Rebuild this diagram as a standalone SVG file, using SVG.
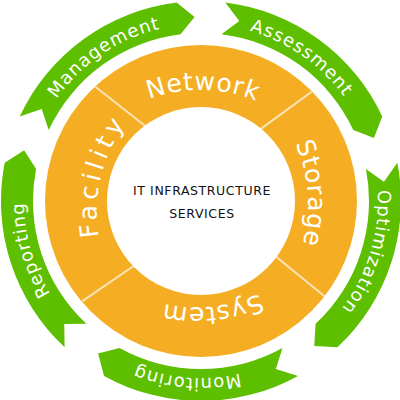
<svg xmlns="http://www.w3.org/2000/svg" width="400" height="400" viewBox="0 0 400 400">
<style>
.g{fill:#5ebf00}
.gl{fill:#ffffff;font-family:"DejaVu Sans",sans-serif;font-size:18px;letter-spacing:1px}
.ol{fill:#ffffff;font-family:"DejaVu Sans",sans-serif;font-size:25px;letter-spacing:0.8px}
.sep{stroke:#fbe4b8;stroke-width:2}
.ct{fill:#111111;font-family:"DejaVu Sans",sans-serif;font-size:12.5px;letter-spacing:0.6px}
</style>
<defs>
<path id="arrow" d="M104.04,26.08 A200,200 0 0 1 297.96,26.08 L303.89,48.46 L282.45,54.07 A168,168 0 0 0 119.55,54.07 L126.17,32.92 Z"/>
<path id="garc" d="M24,201 A177,177 0 0 1 378,201"/>
<path id="arcN" d="M51,240 A150,150 0 0 1 351,240"/>
<path id="arcS" d="M51,244 A150,150 0 0 1 351,244"/>
<path id="arcY" d="M51,245 A150,150 0 0 1 351,245"/>
<path id="arcF" d="M51,248 A150,150 0 0 1 351,248"/>
</defs>
<rect width="400" height="400" fill="#ffffff"/>
<g id="ring">
<circle cx="201" cy="201" r="156" fill="#f5ae24"/>
</g>
<g id="connectors">
<line class="sep" x1="95.4" y1="86.8" x2="147.1" y2="127.5"/>
<line class="sep" x1="311.6" y1="91.8" x2="258.8" y2="130.4"/>
<line class="sep" x1="82.4" y1="301.1" x2="138.3" y2="262.7"/>
<line class="sep" x1="324.5" y1="296.3" x2="270.9" y2="252.5"/>
</g>
<g id="center">
<circle cx="201" cy="201" r="94" fill="#ffffff"/>
<text class="ct" x="202" y="195" text-anchor="middle">IT INFRASTRUCTURE</text>
<text class="ct" x="202" y="218" text-anchor="middle">SERVICES</text>
</g>
<g id="network" transform="rotate(1 201 201)">
<text class="ol" text-anchor="middle"><textPath href="#arcN" startOffset="50%">Network</textPath></text>
</g>
<g id="storage" transform="rotate(86 201 201)">
<text class="ol" text-anchor="middle"><textPath href="#arcS" startOffset="50%">Storage</textPath></text>
</g>
<g id="system" transform="rotate(174 201 201)">
<text class="ol" text-anchor="middle"><textPath href="#arcY" startOffset="50%">System</textPath></text>
</g>
<g id="facility" transform="rotate(284 201 201)">
<text class="ol" text-anchor="middle" style="letter-spacing:4.5px"><textPath href="#arcF" startOffset="50%">Facility</textPath></text>
</g>
<g id="management">
<use href="#arrow" class="g" transform="rotate(-36 201 201)"/>
<g transform="rotate(-34 201 201)"><text class="gl" text-anchor="middle"><textPath href="#garc" startOffset="50%">Management</textPath></text></g>
</g>
<g id="assessment">
<use href="#arrow" class="g" transform="rotate(36 201 201)"/>
<g transform="rotate(35 201 201)"><text class="gl" text-anchor="middle"><textPath href="#garc" startOffset="50%">Assessment</textPath></text></g>
</g>
<g id="optimization">
<use href="#arrow" class="g" transform="rotate(108 201 201)"/>
<g transform="rotate(107 201 201)"><text class="gl" text-anchor="middle"><textPath href="#garc" startOffset="50%">Optimization</textPath></text></g>
</g>
<g id="monitoring">
<use href="#arrow" class="g" transform="rotate(180 201 201)"/>
<g transform="rotate(184.5 201 201)"><text class="gl" text-anchor="middle"><textPath href="#garc" startOffset="50%">Monitoring</textPath></text></g>
</g>
<g id="reporting">
<use href="#arrow" class="g" transform="rotate(252 201 201)"/>
<g transform="rotate(254 201 201)"><text class="gl" text-anchor="middle"><textPath href="#garc" startOffset="50%">Reporting</textPath></text></g>
</g>
</svg>
